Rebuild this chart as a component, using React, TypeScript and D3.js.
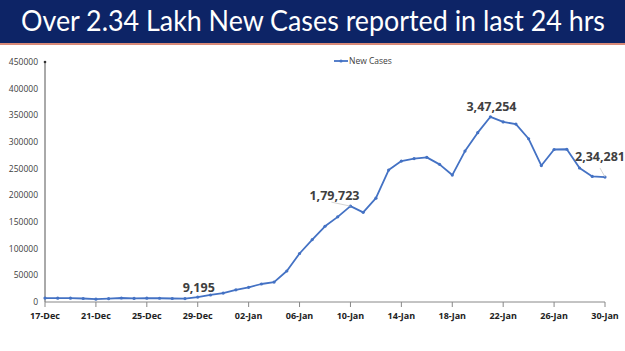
import React from "react";
import * as d3 from "d3";

const title = "Over 2.34 Lakh New Cases reported in last 24 hrs";
const seriesName = "New Cases";
const startDate = new Date(2021, 11, 17);
const endDate = new Date(2022, 0, 30);
const newCases = [
  7447, 7145, 7081, 6563, 5326, 6317, 7495, 6650, 7189, 6987, 6531, 6358,
  9195, 13154, 16764, 22775, 27553, 33750, 37379, 58097, 90928, 117100,
  141986, 159632, 179723, 168063, 194720, 247417, 264202, 268833, 271202,
  258089, 238018, 282970, 317532, 347254, 337704, 333533, 306064, 255874,
  285914, 286384, 251209, 235532, 234281,
];
const yTicks = [0, 50000, 100000, 150000, 200000, 250000, 300000, 350000, 400000, 450000];
const xTickLabels = ["17-Dec", "21-Dec", "25-Dec", "29-Dec", "02-Jan", "06-Jan", "10-Jan", "14-Jan", "18-Jan", "22-Jan", "26-Jan", "30-Jan"];
const annotations = [
  { idx: 12, label: "9,195" },
  { idx: 24, label: "1,79,723" },
  { idx: 35, label: "3,47,254" },
  { idx: 44, label: "2,34,281" },
];

const W = 625;
const H = 351;
const dates = d3.timeDay.range(startDate, d3.timeDay.offset(endDate, 1));
const tickDates = xTickLabels.map((_, i) => d3.timeDay.offset(startDate, i * 4));

export default function App() {
  const x = d3.scaleTime().domain([startDate, endDate]).range([45, 605]);
  const y = d3.scaleLinear().domain([0, 450000]).range([302, 62]);
  const line = d3
    .line<number>()
    .x((_, i) => x(dates[i]))
    .y((d) => y(d));
  const blue = "#4472C4";
  // label placement relative to its point: [dx, dy, leader start dx, leader start dy]
  const offs: Record<number, [number, number, number | null, number | null]> = {
    12: [1, -5, null, null],
    24: [-16, -6, -19, -4],
    35: [1, -6, null, null],
    44: [-5, -16, -5, -9],
  };
  return (
    <div style={{ position: "fixed", left: 0, top: 0, width: W, height: H, background: "#fff" }}>
      <svg width={W} height={H} style={{ display: "block" }}>
        <rect x={0} y={0} width={W} height={43} fill="#0d2466" />
        <rect x={0} y={43} width={W} height={2} fill="#d98a78" />
        <text
          x={21}
          y={31}
          fill="#fff"
          fontFamily="Lato, 'Open Sans', sans-serif"
          fontSize={26}
          textLength={584}
          lengthAdjust="spacingAndGlyphs"
          transform="translate(0,31) scale(1,1.12) translate(0,-31)"
        >
          {title}
        </text>

        {/* y axis labels */}
        {yTicks.map((t) => (
          <text
            key={t}
            x={38}
            y={y(t)}
            dy="0.35em"
            textAnchor="end"
            fontFamily="'Open Sans', sans-serif"
            fontSize={8.5}
            fill="#404040"
          >
            {t}
          </text>
        ))}
        {/* axes */}
        <line x1={45} x2={45} y1={y(450000)} y2={y(0)} stroke="#555" strokeWidth={1} />
        <circle cx={45} cy={y(450000)} r={1.3} fill="#333" />
        <line x1={45} x2={605} y1={y(0)} y2={y(0)} stroke="#888" strokeWidth={1} />
        {tickDates.map((d, i) => (
          <g key={i}>
            <line x1={x(d)} x2={x(d)} y1={y(0)} y2={y(0) + 5} stroke="#888" />
            <text
              x={x(d)}
              y={y(0) + 17}
              textAnchor="middle"
              fontFamily="'Open Sans', sans-serif"
              fontWeight="bold"
              fontSize={9}
              fill="#222"
            >
              {xTickLabels[i]}
            </text>
          </g>
        ))}

        {/* legend */}
        <line x1={334} x2={348} y1={61} y2={61} stroke={blue} strokeWidth={1.8} />
        <circle cx={341} cy={61} r={1.6} fill={blue} />
        <text x={349} y={61} dy="0.35em" fontFamily="'Open Sans', sans-serif" fontSize={8.5} fill="#404040">
          {seriesName}
        </text>

        {/* series */}
        <path d={line(newCases) ?? ""} fill="none" stroke={blue} strokeWidth={1.8} strokeLinejoin="round" />
        {newCases.map((v, i) => (
          <circle key={i} cx={x(dates[i])} cy={y(v)} r={1.6} fill={blue} />
        ))}

        {/* annotations */}
        {annotations.map((a) => {
          const px = x(dates[a.idx]);
          const py = y(newCases[a.idx]);
          const [dx, dy, lx, ly] = offs[a.idx];
          return (
            <g key={a.idx}>
              {lx !== null && ly !== null && (
                <line x1={px + lx} y1={py + ly} x2={px} y2={py} stroke="#c8c8c8" strokeWidth={0.8} />
              )}
              <text
                x={px + dx}
                y={py + dy}
                textAnchor="middle"
                fontFamily="'Open Sans', sans-serif"
                fontWeight="bold"
                fontSize={12.5}
                fill="#404040"
              >
                {a.label}
              </text>
            </g>
          );
        })}
      </svg>
    </div>
  );
}
